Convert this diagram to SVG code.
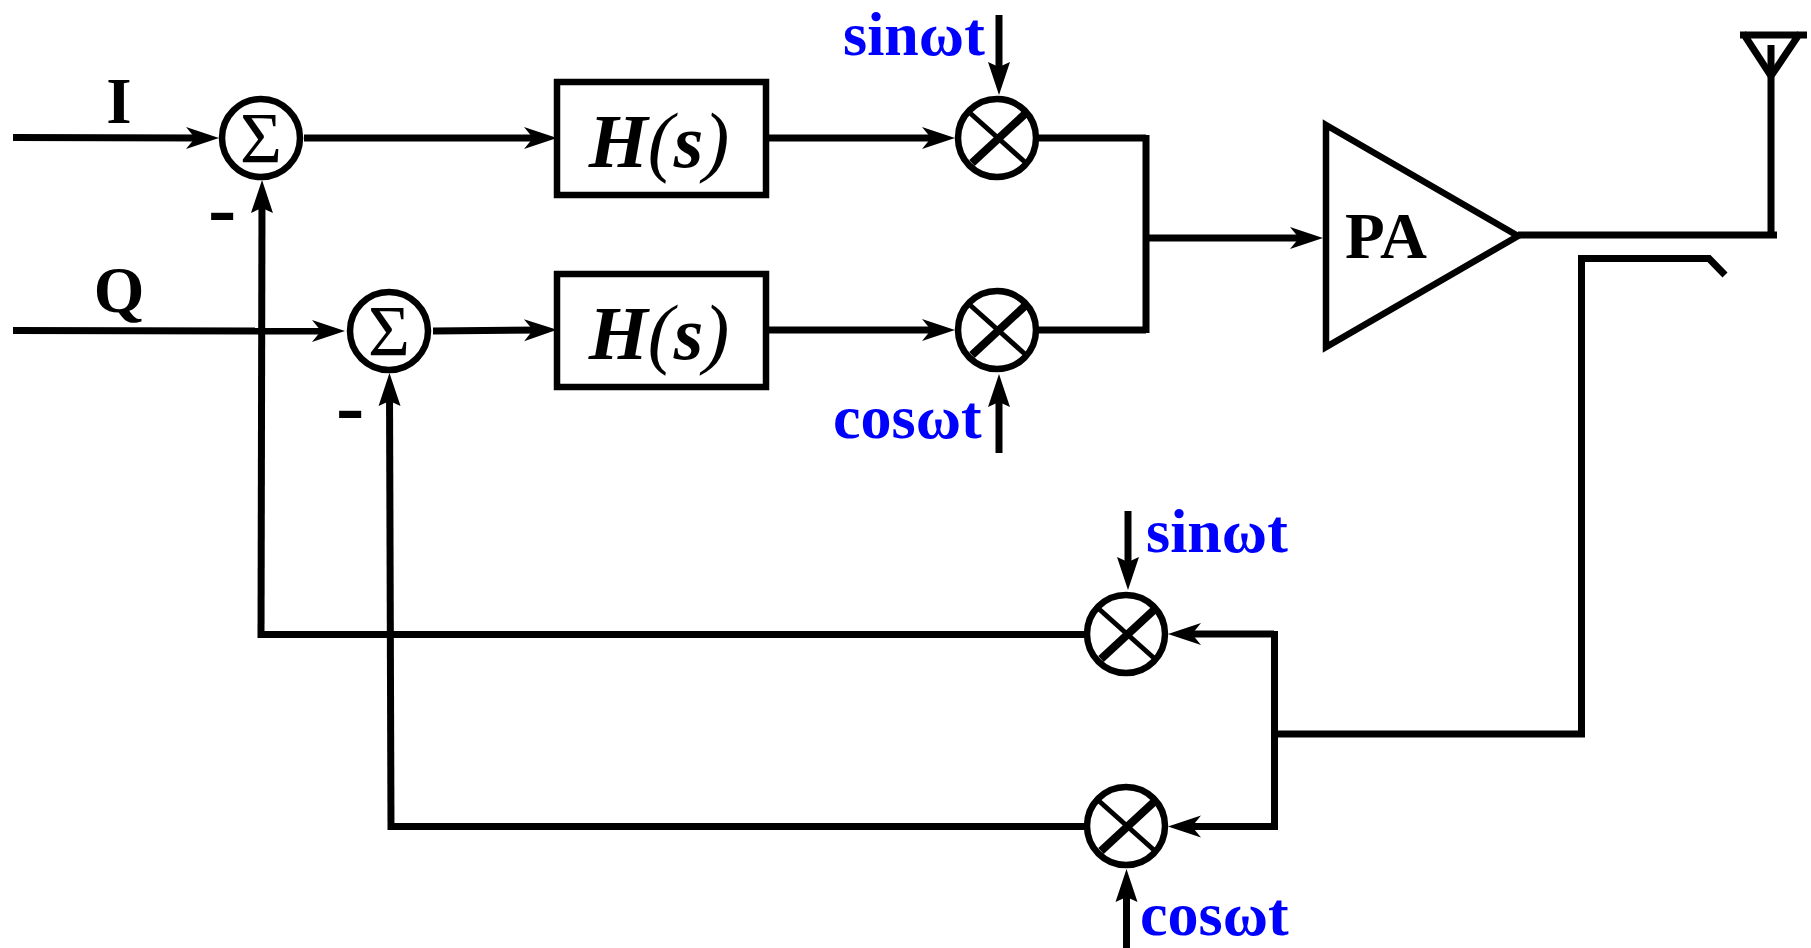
<svg xmlns="http://www.w3.org/2000/svg" width="1811" height="948" viewBox="0 0 1811 948">
<style>
.l{fill:none;stroke:#000;stroke-width:7}
.a{marker-end:url(#ah)}
.v{marker-end:url(#av)}
.n{fill:#fff;stroke:#000;stroke-width:6.500}
.th{fill:none;stroke:#000;stroke-width:8}
.tn{fill:none;stroke:#000;stroke-width:5}
text{font-family:"Liberation Serif","Times New Roman",serif;font-weight:bold;fill:#000}
.b{fill:#0000ff;font-size:62px}
.s{font-weight:normal;font-size:72px;text-anchor:middle}
.h{font-style:italic;font-size:76px;text-anchor:middle}
.p{font-weight:normal;font-size:78px}
.c{font-size:65px}
.m{font-size:85px}
</style>
<defs>
<marker id="ah" markerUnits="userSpaceOnUse" markerWidth="40" markerHeight="30" refX="0" refY="0" orient="auto" overflow="visible">
<path d="M16 0L-17 -11L-8 0L-17 11Z" fill="#000"/>
</marker>
<marker id="av" markerUnits="userSpaceOnUse" markerWidth="40" markerHeight="30" refX="0" refY="0" orient="auto" overflow="visible">
<path d="M16 0L-17 -11L-12 0L-17 11Z" fill="#000"/>
</marker>
</defs>
<rect width="1811" height="948" fill="#fff"/>
<g id="connectors">
<path class="l a" d="M13 137.500L203 138"/>
<path class="l a" d="M13 330.500L329 331"/>
<path class="l a" d="M304 138H541"/>
<path class="l a" d="M433 331L541 330"/>
<path class="l a" d="M767 138H939"/>
<path class="l a" d="M767 330H939"/>
<path class="l v" d="M999 15V79"/>
<path class="l v" d="M999 453V390"/>
<path class="l" d="M1036 138H1146M1036 330H1146M1146 135V333"/>
<path class="l a" d="M1146 238H1307"/>
<path class="l" d="M1518 235H1777M1771 238V45"/>
<path class="l" d="M1740 35H1807M1743 33L1771 76L1800 33"/>
<path class="l" d="M1579 258.500H1709L1725 275"/>
<path class="l" d="M1581.500 255V735M1276 734H1585"/>
<path class="l" d="M1274.500 631V830"/>
<path class="l a" d="M1274 634H1184"/>
<path class="l a" d="M1274 826.500H1184"/>
<path class="l v" d="M1128 511V574"/>
<path class="l v" d="M1126.500 948V885"/>
<path class="l" d="M1087 634.500H261"/>
<path class="l v" d="M261 638L262 196"/>
<path class="l" d="M1087 826.500H390"/>
<path class="l v" d="M391 830L389.500 389"/>
</g>
<g id="sum1"><circle class="n" cx="261" cy="138" r="39"/><text class="s" x="261" y="162">Σ</text></g>
<g id="sum2"><circle class="n" cx="389" cy="331" r="39"/><text class="s" x="389" y="355">Σ</text></g>
<g id="filter1"><rect class="n" x="557" y="82" width="209" height="113"/><text class="h" x="659" y="167">H<tspan class="p">(</tspan>s<tspan class="p">)</tspan></text></g>
<g id="filter2"><rect class="n" x="557" y="274" width="209" height="113"/><text class="h" x="659" y="359">H<tspan class="p">(</tspan>s<tspan class="p">)</tspan></text></g>
<g id="mixer1"><circle class="n" cx="997" cy="138" r="39"/><path class="tn" d="M970 113L1026 163"/><path class="th" d="M1026 113L972 163"/></g>
<g id="mixer2"><circle class="n" cx="997" cy="330" r="39"/><path class="tn" d="M970 305L1026 355"/><path class="th" d="M1026 305L972 355"/></g>
<g id="mixer3"><circle class="n" cx="1126" cy="634" r="39"/><path class="tn" d="M1099 609L1155 659"/><path class="th" d="M1155 609L1101 659"/></g>
<g id="mixer4"><circle class="n" cx="1126" cy="826" r="39"/><path class="tn" d="M1099 801L1155 851"/><path class="th" d="M1155 801L1101 851"/></g>
<g id="pa"><path class="n" d="M1326 125L1518 236L1326 347Z"/><text class="c" x="1345" y="258">PA</text></g>
<g id="labels">
<text class="c" x="119" y="123" text-anchor="middle">I</text>
<text class="c" x="119" y="312" text-anchor="middle">Q</text>
<text class="m" x="208" y="235.500">-</text>
<text class="m" x="336" y="433.500">-</text>
<text class="b" x="843" y="55">sinωt</text>
<text class="b" x="833" y="438">cosωt</text>
<text class="b" x="1146" y="552">sinωt</text>
<text class="b" x="1140" y="935">cosωt</text>
</g>
</svg>
